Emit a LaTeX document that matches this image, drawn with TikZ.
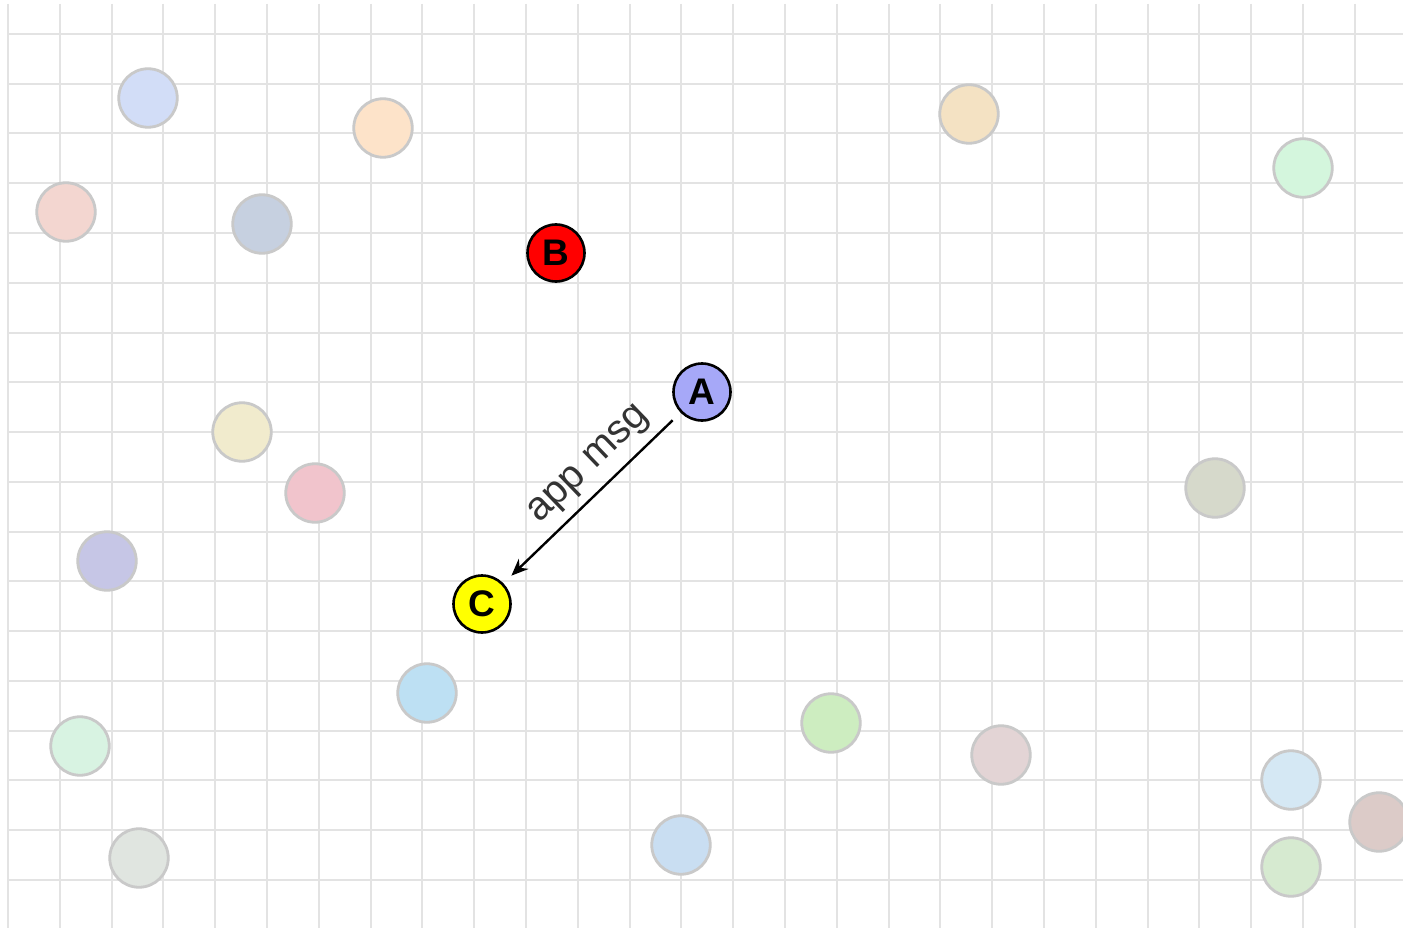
\documentclass[tikz,border=0pt]{standalone}
\usepackage{fontspec}
\setmainfont{Liberation Sans}
\usetikzlibrary{arrows.meta}
\definecolor{gridgray}{HTML}{E3E3E3}
\definecolor{ghostborder}{HTML}{C9C9C9}
\definecolor{labelgray}{HTML}{333333}
\definecolor{cA}{HTML}{A6A8F8}
\definecolor{cB}{HTML}{FF0000}
\definecolor{cC}{HTML}{FFFF00}
\definecolor{g1}{HTML}{D2DDF7}
\definecolor{g2}{HTML}{FDE3C9}
\definecolor{g3}{HTML}{F3D6D0}
\definecolor{g4}{HTML}{C6D0E0}
\definecolor{g5}{HTML}{F4E2C3}
\definecolor{g6}{HTML}{D4F6DD}
\definecolor{g7}{HTML}{F1EBCD}
\definecolor{g8}{HTML}{F1C4CC}
\definecolor{g9}{HTML}{C6C6E6}
\definecolor{g10}{HTML}{D6D9CB}
\definecolor{g11}{HTML}{BDE0F3}
\definecolor{g12}{HTML}{D8F3E2}
\definecolor{g13}{HTML}{E0E5E0}
\definecolor{g14}{HTML}{C9DEF2}
\definecolor{g15}{HTML}{CDEDC0}
\definecolor{g16}{HTML}{E3D4D5}
\definecolor{g17}{HTML}{D5E8F4}
\definecolor{g18}{HTML}{DCCBC8}
\definecolor{g19}{HTML}{D6EAD0}
\begin{document}
\begin{tikzpicture}[x=1pt,y=1pt,
  gridline/.style={draw=gridgray, line width=2pt},
  ghost/.style={circle, draw=ghostborder, line width=2.8pt, minimum size=58.5pt, inner sep=0pt},
  actor/.style={circle, draw=black, line width=2.6pt, minimum size=57pt, inner sep=0pt,
    font=\fontsize{37}{37}\selectfont\bfseries},
  msg/.style={-{Stealth[length=17pt,width=14pt]}, line width=2.4pt, shorten <=11pt, shorten >=11pt},
  msglabel/.style={font=\fontsize{40}{40}\selectfont, text=labelgray}
]
\fill[white] (0,0) rectangle (1403,-928);
\path[use as bounding box] (0,0) rectangle (1403,-928);
% grid
\foreach \i in {0,...,26} \draw[gridline] ({8+51.8*\i},-4) -- ({8+51.8*\i},-928);
\foreach \j in {0,...,17} \draw[gridline] (8,{-34-49.75*\j}) -- (1403,{-34-49.75*\j});
% faded nodes
\node[ghost, fill=g1]  (n1)  at (148,-98)  {};
\node[ghost, fill=g2]  (n2)  at (383,-128) {};
\node[ghost, fill=g3]  (n3)  at (66,-212)  {};
\node[ghost, fill=g4]  (n4)  at (262,-224) {};
\node[ghost, fill=g5]  (n5)  at (969,-114) {};
\node[ghost, fill=g6]  (n6)  at (1303,-168) {};
\node[ghost, fill=g7]  (n7)  at (242,-432) {};
\node[ghost, fill=g8]  (n8)  at (315,-493) {};
\node[ghost, fill=g9]  (n9)  at (107,-561) {};
\node[ghost, fill=g10] (n10) at (1215,-488) {};
\node[ghost, fill=g11] (n11) at (427,-693) {};
\node[ghost, fill=g12] (n12) at (80,-746)  {};
\node[ghost, fill=g13] (n13) at (139,-858) {};
\node[ghost, fill=g14] (n14) at (681,-845) {};
\node[ghost, fill=g15] (n15) at (831,-723) {};
\node[ghost, fill=g16] (n16) at (1001,-755) {};
\node[ghost, fill=g17] (n17) at (1291,-780) {};
\node[ghost, fill=g18] (n18) at (1379,-822) {};
\node[ghost, fill=g19] (n19) at (1291,-867) {};
% main nodes
\node[actor, fill=cB] (B) at (556,-253) {B};
\node[actor, fill=cA] (A) at (702,-392) {A};
\node[actor, fill=cC] (C) at (482,-604) {C};
\draw[msg] (A) -- node[pos=0.415, sloped, above=5pt, msglabel] {app msg} (C);
\end{tikzpicture}
\end{document}
